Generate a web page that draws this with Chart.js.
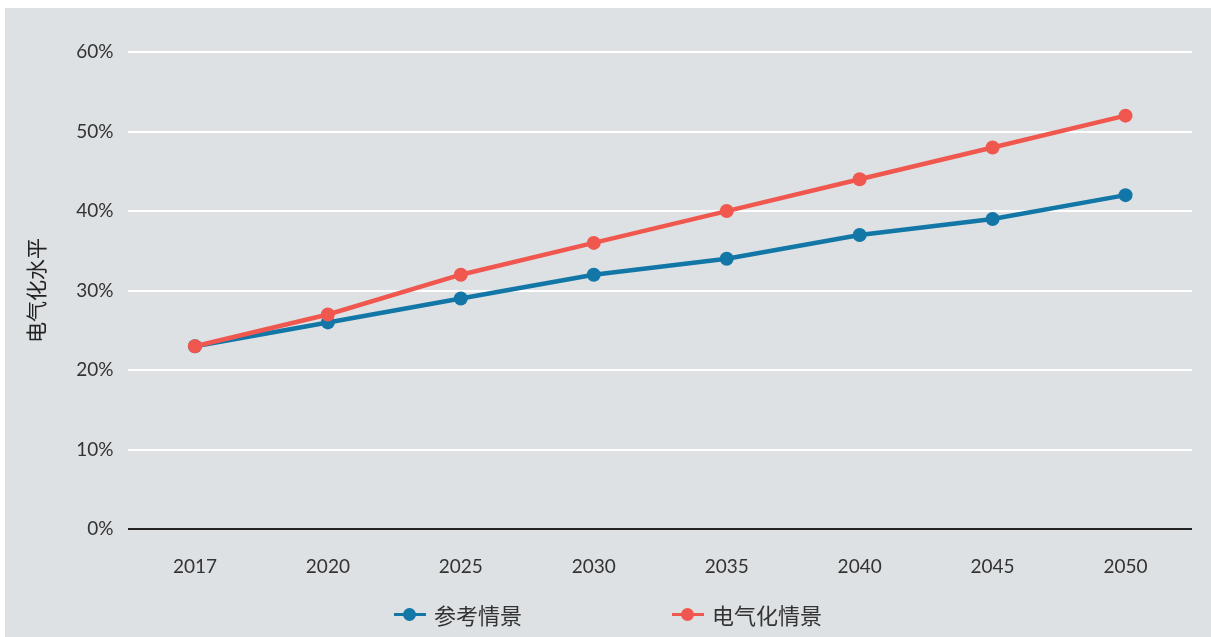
<!DOCTYPE html>
<html lang="zh">
<head>
<meta charset="UTF-8">
<title>电气化水平</title>
<script src="https://cdn.jsdelivr.net/npm/chart.js@4"></script>
<style>
  body { margin: 0; background: #fff; }
  #panel { position: absolute; left: 5px; top: 8px; width: 1206px; height: 629px; background: #dde1e3; }
  #wrap { position: absolute; left: 0; top: 0; width: 1206px; height: 629px; }
  #legend { position: absolute; left: 0; top: 590px; width: 1206px; display: flex; justify-content: center; gap: 150px;
            font-family: Lato, "Noto Sans CJK SC", sans-serif; font-size: 22px; color: #333; }
  .item { display: flex; align-items: center; }
  .mark { position: relative; width: 32px; height: 14px; margin-right: 8px; }
  .mark .ln { position: absolute; left: 0; right: 0; top: 6px; height: 3px; }
  .mark .dt { position: absolute; left: 9px; top: 1px; width: 13px; height: 13px; border-radius: 50%; }
</style>
</head>
<body>
<div id="panel">
  <div id="wrap"><canvas id="chart"></canvas></div>
  <div id="legend"></div>
</div>
<script>
// 年份与两种情景的电气化水平（%）
const years = ['2017', '2020', '2025', '2030', '2035', '2040', '2045', '2050'];
const reference = [23, 26, 29, 32, 34, 37, 39, 42];
const electrified = [23, 27, 32, 36, 40, 44, 48, 52];
const seriesNames = ['参考情景', '电气化情景'];
const blue = '#1277a7';
const red = '#f0584f';
const font = 'Lato, "Noto Sans CJK SC", sans-serif';

// 图例
const legend = document.getElementById('legend');
[[seriesNames[0], blue], [seriesNames[1], red]].forEach(([name, c]) => {
    const d = document.createElement('div');
    d.className = 'item';
    d.innerHTML = '<span class="mark"><span class="ln" style="background:' + c + '"></span>' +
                  '<span class="dt" style="background:' + c + '"></span></span>' + name;
    legend.appendChild(d);
});

const line = (label, data, color) => ({
    label: label,
    data: data,
    borderColor: color,
    backgroundColor: color,
    borderWidth: 4.5,
    pointRadius: 7,
    pointHoverRadius: 7,
    pointBorderWidth: 0,
    tension: 0
});

new Chart(document.getElementById('chart'), {
    type: 'line',
    data: {
        labels: years,
        datasets: [line(seriesNames[1], electrified, red), line(seriesNames[0], reference, blue)]
    },
    options: {
        responsive: true,
        maintainAspectRatio: false,
        animation: false,
        layout: { padding: { left: 16, right: 19, top: 44, bottom: 33 } },
        plugins: { legend: { display: false }, tooltip: { enabled: false } },
        scales: {
            x: {
                offset: true,
                grid: { display: false, drawTicks: false },
                border: { display: false },
                ticks: { color: '#333', font: { family: font, size: 19 }, padding: 26 }
            },
            y: {
                min: 0,
                max: 60,
                ticks: {
                    stepSize: 10,
                    color: '#333',
                    padding: 15,
                    font: { family: font, size: 19 },
                    callback: v => v + '%'
                },
                grid: {
                    drawTicks: false,
                    lineWidth: 2,
                    color: ctx => ctx.tick.value === 0 ? '#222' : '#ffffff'
                },
                border: { display: false },
                title: {
                    display: true,
                    text: '电气化水平',
                    color: '#222',
                    font: { family: font, size: 21 },
                    padding: { bottom: 11 }
                }
            }
        }
    }
});
</script>
</body>
</html>
